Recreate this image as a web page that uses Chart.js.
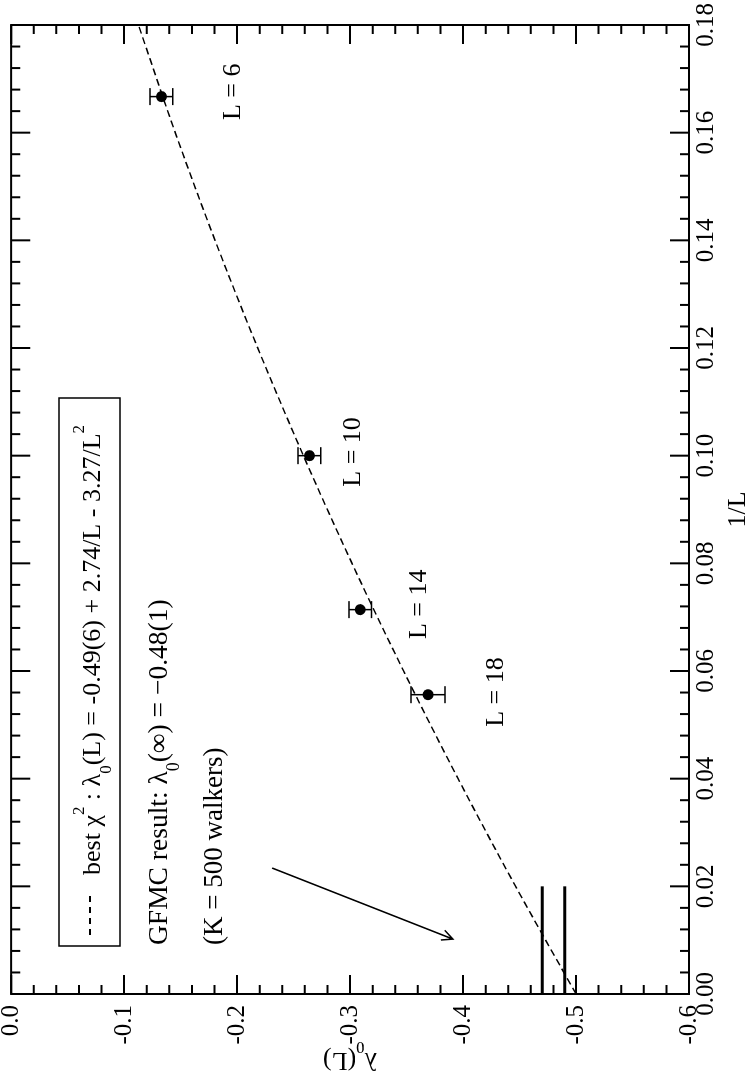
<!DOCTYPE html>
<html>
<head>
<meta charset="utf-8">
<script src="https://cdn.jsdelivr.net/npm/chart.js@4.4.1/dist/chart.umd.min.js"></script>
<style>
  html, body { margin: 0; padding: 0; overflow: hidden; background: #fff; }
  #wrap {
    position: absolute; left: 0; top: 0;
    width: 1090px; height: 749px;
    transform-origin: 0 0;
    transform: translate(0, 1090px) rotate(-90deg);
  }
  canvas { background: #fff; }
</style>
</head>
<body>
<div id="wrap"><canvas id="gfmc" width="1090" height="749"></canvas></div>
<script>
// data points
const invL = [0.1667, 0.1, 0.0714, 0.0556];
const lambda0 = [-0.133, -0.264, -0.309, -0.369];
const lambdaErr = [0.010, 0.010, 0.010, 0.015];

// best chi^2 fit curve, sampled off the dashed line
const fitInvL = [0, 0.02, 0.04, 0.06, 0.08, 0.10, 0.12, 0.14, 0.16, 0.18];
const fitLam = [-0.500, -0.4465, -0.3956, -0.3474, -0.3017, -0.2587, -0.2183, -0.1805, -0.1453, -0.1127];

// GFMC extrapolated band
const gfmcInvL = [0, 0.02];
const gfmcLam = [-0.47, -0.49];

// size labels
const sizeLabels = ["L = 6", "L = 10", "L = 14", "L = 18"];
const labelInvL = [0.1676, 0.1007, 0.0724, 0.0561];
const labelLam = [-0.203, -0.309, -0.367, -0.435];

// arrow (from, to) in data units
const arrowInvL = [0.0234, 0.0102];
const arrowLam = [-0.231, -0.391];

const FONT = '"Liberation Serif", "Times New Roman", serif';
const font = (s) => s + "px " + FONT;

function drawRich(ctx, parts, x, y, size, align) {
  let total = 0;
  parts.forEach((p) => {
    ctx.font = font(p.sub || p.sup ? size * 0.65 : size);
    p.w = ctx.measureText(p.t).width;
    total += p.w;
  });
  let cx = align === "center" ? x - total / 2 : x;
  ctx.textAlign = "left";
  ctx.textBaseline = "alphabetic";
  parts.forEach((p) => {
    ctx.font = font(p.sub || p.sup ? size * 0.65 : size);
    const dy = p.sub ? size * 0.42 : p.sup ? -size * 0.6 : 0;
    ctx.fillText(p.t, cx, y + dy);
    cx += p.w;
  });
}

const decor = {
  id: "decor",
  afterDatasetsDraw(chart) {
    const ctx = chart.ctx;
    const xs = chart.scales.x, ys = chart.scales.y;
    const a = chart.chartArea;
    ctx.save();
    ctx.strokeStyle = "#000";
    ctx.fillStyle = "#000";
    ctx.setLineDash([]);

    // error bars
    ctx.lineWidth = 1.5;
    for (let i = 0; i < invL.length; i++) {
      const px = xs.getPixelForValue(invL[i]);
      const y1 = ys.getPixelForValue(lambda0[i] + lambdaErr[i]);
      const y2 = ys.getPixelForValue(lambda0[i] - lambdaErr[i]);
      ctx.beginPath();
      ctx.moveTo(px, y1); ctx.lineTo(px, y2);
      ctx.moveTo(px - 8.5, y1); ctx.lineTo(px + 8.5, y1);
      ctx.moveTo(px - 8.5, y2); ctx.lineTo(px + 8.5, y2);
      ctx.stroke();
    }

    // frame
    ctx.lineWidth = 2;
    ctx.strokeRect(a.left, a.top, a.right - a.left, a.bottom - a.top);

    // inward ticks, major + minor, on all four sides
    ctx.beginPath();
    for (let i = 0; i <= 45; i++) {
      const px = xs.getPixelForValue(i * 0.004);
      const len = i % 5 === 0 ? 19 : 9;
      ctx.moveTo(px, a.bottom); ctx.lineTo(px, a.bottom - len);
      ctx.moveTo(px, a.top); ctx.lineTo(px, a.top + len);
    }
    for (let i = 0; i <= 30; i++) {
      const py = ys.getPixelForValue(-i * 0.02);
      const len = i % 5 === 0 ? 19 : 9;
      ctx.moveTo(a.left, py); ctx.lineTo(a.left + len, py);
      ctx.moveTo(a.right, py); ctx.lineTo(a.right - len, py);
    }
    ctx.stroke();

    // size labels
    for (let i = 0; i < sizeLabels.length; i++) {
      ctx.font = font(26);
      ctx.textAlign = "center";
      ctx.textBaseline = "alphabetic";
      ctx.fillText(sizeLabels[i], xs.getPixelForValue(labelInvL[i]), ys.getPixelForValue(labelLam[i]));
    }

    // arrow
    const ax1 = xs.getPixelForValue(arrowInvL[0]), ay1 = ys.getPixelForValue(arrowLam[0]);
    const ax2 = xs.getPixelForValue(arrowInvL[1]), ay2 = ys.getPixelForValue(arrowLam[1]);
    const ang = Math.atan2(ay2 - ay1, ax2 - ax1);
    ctx.lineWidth = 1.5;
    ctx.beginPath();
    ctx.moveTo(ax1, ay1); ctx.lineTo(ax2, ay2);
    ctx.moveTo(ax2 - 12 * Math.cos(ang - 0.45), ay2 - 12 * Math.sin(ang - 0.45));
    ctx.lineTo(ax2, ay2);
    ctx.lineTo(ax2 - 12 * Math.cos(ang + 0.45), ay2 - 12 * Math.sin(ang + 0.45));
    ctx.stroke();

    // legend box
    ctx.lineWidth = 1.5;
    ctx.strokeRect(144, 59, 548, 61);
    ctx.lineWidth = 2;
    ctx.setLineDash([6, 5]);
    ctx.beginPath();
    ctx.moveTo(155, 90); ctx.lineTo(196, 90);
    ctx.stroke();
    ctx.setLineDash([]);
    drawRich(ctx, [
      { t: "best \u03c7" }, { t: "2", sup: true }, { t: " : \u03bb" }, { t: "0", sub: true },
      { t: "(L) = -0.49(6) + 2.74/L - 3.27/L" }, { t: "2", sup: true }
    ], 215, 100, 26, "left");

    drawRich(ctx, [
      { t: "GFMC result: \u03bb" }, { t: "0", sub: true }, { t: "(\u221e) = \u22120.48(1)" }
    ], 145, 167, 27.5, "left");
    drawRich(ctx, [{ t: "(K = 500 walkers)" }], 145, 222, 27, "left");

    // axis titles
    drawRich(ctx, [{ t: "1/L" }], (a.left + a.right) / 2, 745, 26, "center");
    ctx.save();
    ctx.translate(37, (a.top + a.bottom) / 2);
    ctx.rotate(-Math.PI / 2);
    drawRich(ctx, [{ t: "\u03bb" }, { t: "0", sub: true }, { t: "(L)" }], 0, 0, 26, "center");
    ctx.restore();

    ctx.restore();
  }
};

const data = {
  datasets: [
    {
      label: "fit",
      data: fitInvL.map((v, i) => ({ x: v, y: fitLam[i] })),
      showLine: true,
      borderColor: "#000",
      borderWidth: 1.5,
      borderDash: [7, 4],
      pointRadius: 0,
      cubicInterpolationMode: "monotone",
      fill: false,
    },
    {
      label: "gfmc1",
      data: gfmcInvL.map((v) => ({ x: v, y: gfmcLam[0] })),
      showLine: true,
      borderColor: "#000",
      borderWidth: 3,
      pointRadius: 0,
    },
    {
      label: "gfmc2",
      data: gfmcInvL.map((v) => ({ x: v, y: gfmcLam[1] })),
      showLine: true,
      borderColor: "#000",
      borderWidth: 3,
      pointRadius: 0,
    },
    {
      label: "GFMC",
      data: invL.map((v, i) => ({ x: v, y: lambda0[i] })),
      backgroundColor: "#000",
      borderColor: "#000",
      borderWidth: 0,
      pointRadius: 5.5,
    },
  ],
};

const config = {
  type: "scatter",
  data: data,
  options: {
    responsive: false,
    animation: false,
    devicePixelRatio: 1,
    layout: { padding: { left: 0, top: 11, right: 25, bottom: 0 } },
    plugins: { legend: { display: false }, tooltip: { enabled: false } },
    scales: {
      x: {
        type: "linear",
        min: 0,
        max: 0.18,
        afterFit: (s) => { s.height = 60; },
        border: { display: false },
        grid: { display: false, drawTicks: false },
        ticks: {
          stepSize: 0.02,
          autoSkip: false,
          maxRotation: 0,
          padding: 2,
          color: "#000",
          font: { family: FONT, size: 25 },
          callback: (v) => v.toFixed(2),
        },
      },
      y: {
        type: "linear",
        min: -0.6,
        max: 0,
        afterFit: (s) => { s.width = 96; },
        border: { display: false },
        grid: { display: false, drawTicks: false },
        ticks: {
          stepSize: 0.1,
          autoSkip: false,
          padding: 11,
          color: "#000",
          font: { family: FONT, size: 25, lineHeight: 0.01 },
          callback: (v) => v.toFixed(1),
        },
      },
    },
  },
  plugins: [decor],
};

const gfmcChart = new Chart(document.getElementById("gfmc").getContext("2d"), config);
</script>
</body>
</html>
